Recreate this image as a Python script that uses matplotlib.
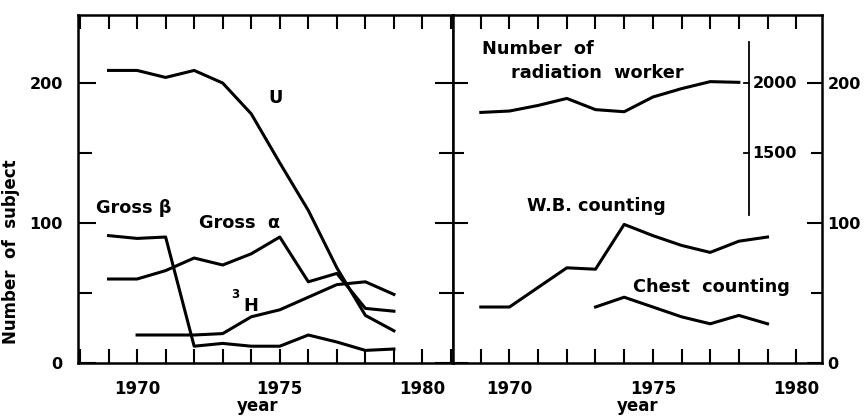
import matplotlib
matplotlib.use("Agg")
import matplotlib.pyplot as plt
from matplotlib.ticker import MultipleLocator

plt.rcParams['font.family'] = ['DejaVu Sans']
plt.rcParams['font.weight'] = 'bold'
plt.rcParams['axes.labelweight'] = 'bold'

# left panel: number of subjects by bioassay type
years = [1969, 1970, 1971, 1972, 1973, 1974, 1975, 1976, 1977, 1978, 1979]
u_vals = [209, 209, 204, 209, 200, 178, 143, 109, 68, 34, 23]
alpha_vals = [60, 60, 66, 75, 70, 78, 90, 58, 64, 39, 37]
beta_vals = [91, 89, 90, 12, 14, 12, 12, 20, 15, 9, 10]
h3_years = [1970, 1971, 1972, 1973, 1974, 1975, 1976, 1977, 1978, 1979]
h3_vals = [20, 20, 20, 21, 33, 38, 47, 56, 58, 49]

# right panel
worker_years = [1969, 1970, 1971, 1972, 1973, 1974, 1975, 1976, 1977, 1978]
workers = [1790, 1800, 1840, 1890, 1810, 1795, 1900, 1960, 2010, 2005]
wb_vals = [40, 40, 54, 68, 67, 99, 91, 84, 79, 87, 90]
chest_years = [1973, 1974, 1975, 1976, 1977, 1978, 1979]
chest_vals = [40, 47, 40, 33, 28, 34, 28]

ytop = 248.6
lw = 2.2

fig = plt.figure(figsize=(8.68, 4.16), dpi=100)
ax1 = fig.add_axes([78/868, 53/416, 375/868, 348/416])
ax2 = fig.add_axes([453/868, 53/416, 369/868, 348/416])

# twin axis for the worker count (x10 scale), made first so it does not reset ax2 ticks
ax3 = ax2.twinx()
ax3.set_ylim(0, ytop * 10)
ax3.set_yticks([])
for s in ax3.spines.values():
    s.set_visible(False)

for ax in (ax1, ax2):
    ax.set_ylim(0, ytop)
    for s in ax.spines.values():
        s.set_linewidth(1.8)
    ax.xaxis.set_major_locator(MultipleLocator(5))
    ax.xaxis.set_minor_locator(MultipleLocator(1))
    ax.yaxis.set_major_locator(MultipleLocator(100))
    ax.yaxis.set_minor_locator(MultipleLocator(50))
    ax.tick_params(axis='x', which='both', direction='in', top=True, bottom=True,
                   length=10, width=1.5, pad=12, labelsize=12)
    ax.set_xlabel('year', fontsize=12, labelpad=0)

ax1.set_xlim(1967.93, 1981.07)
ax2.set_xlim(1968.03, 1980.9)
ax1.xaxis.set_label_coords(0.48, -0.097)
ax2.xaxis.set_label_coords(0.5, -0.097)

ax1.tick_params(axis='y', which='both', direction='in', left=True, right=True,
                width=1.5, pad=11, labelsize=11.5)
ax1.tick_params(axis='y', which='major', length=13)
ax1.tick_params(axis='y', which='minor', length=10)
ax1.set_ylabel('Number  of  subject', fontsize=12)
ax1.yaxis.set_label_coords(-0.155, 0.32)

ax2.tick_params(axis='y', which='both', direction='in', left=True, right=True,
                labelleft=False, labelright=True, width=1.5, pad=4, labelsize=11.5)
ax2.tick_params(axis='y', which='major', length=10.5)
ax2.tick_params(axis='y', which='minor', length=8)

# left panel lines
ax1.plot(years, u_vals, color='black', lw=lw)
ax1.plot(years, alpha_vals, color='black', lw=lw)
ax1.plot(years, beta_vals, color='black', lw=lw)
ax1.plot(h3_years, h3_vals, color='black', lw=lw)

fs = 12.8
ax1.text(1974.85, 189, 'U', fontsize=fs, ha='center', va='center')
ax1.text(1969.87, 111, 'Gross \u03b2', fontsize=fs, ha='center', va='center')
ax1.text(1973.6, 100, 'Gross  \u03b1', fontsize=fs, ha='center', va='center')
ax1.text(1973.45, 49, '3', fontsize=8.5, ha='center', va='center')
ax1.text(1974.0, 41, 'H', fontsize=fs, ha='center', va='center')

# right panel lines
ax2.plot(years, wb_vals, color='black', lw=lw)
ax2.plot(chest_years, chest_vals, color='black', lw=lw)
ax3.plot(worker_years, workers, color='black', lw=lw)

# small worker scale inside the right panel
xs = 1978.36
ax3.plot([xs, xs], [1060, 2290], color='black', lw=1.3)
for v in (1500, 2000):
    ax3.plot([xs - 0.18, xs], [v, v], color='black', lw=1.3)
    ax3.text(xs + 0.12, v, str(v), fontsize=11.5, ha='left', va='center')

ax2.text(1969.05, 224, 'Number  of', fontsize=fs, ha='left', va='center')
ax2.text(1970.05, 207, 'radiation  worker', fontsize=fs, ha='left', va='center')
ax2.text(1970.6, 112, 'W.B. counting', fontsize=fs, ha='left', va='center')
ax2.text(1974.3, 54, 'Chest  counting', fontsize=fs, ha='left', va='center')

fig.savefig('out.png', dpi=100)
